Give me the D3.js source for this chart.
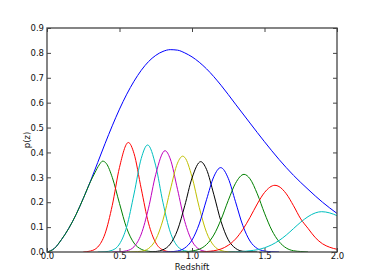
<!DOCTYPE html>
<html>
<head>
<meta charset="utf-8">
<script src="https://cdn.jsdelivr.net/npm/d3@7"></script>
<style>
  body { margin: 0; background: #fff; }
  text { font-family: "DejaVu Sans", sans-serif; }
</style>
</head>
<body>
<div id="chart"></div>
<script>
// overall n(z) and the tomographic bins, [z, p(z)]
var nzAll = [[0,0],[0.05,0.014],[0.1,0.05],[0.15,0.095],[0.2,0.15],[0.25,0.215],[0.3,0.285],
  [0.35,0.36],[0.4,0.435],[0.45,0.507],[0.5,0.574],[0.55,0.634],[0.6,0.686],[0.65,0.73],
  [0.7,0.765],[0.75,0.79],[0.8,0.806],[0.85,0.813],[0.9,0.811],[0.95,0.8],[1.0,0.784],
  [1.1,0.736],[1.2,0.67],[1.3,0.594],[1.4,0.518],[1.5,0.443],[1.6,0.372],[1.7,0.308],
  [1.8,0.252],[1.9,0.2],[2.0,0.155]];
var bin1 = [[0,0],[0.05,0.014],[0.1,0.05],[0.15,0.095],[0.2,0.15],[0.25,0.215],[0.3,0.283],
  [0.33,0.318],[0.36,0.35],[0.384,0.365],[0.41,0.355],[0.45,0.3],[0.5,0.195],[0.55,0.095],
  [0.6,0.036],[0.65,0.011],[0.7,0.003],[0.75,0]];
var bin2 = [[0.25,0],[0.3,0.004],[0.35,0.02],[0.4,0.073],[0.45,0.187],[0.5,0.34],[0.561,0.44],
  [0.6,0.396],[0.65,0.254],[0.7,0.116],[0.75,0.037],[0.8,0.008],[0.85,0.001],[0.9,0]];
var bin3 = [[0.35,0],[0.4,0.001],[0.45,0.007],[0.5,0.032],[0.55,0.102],[0.6,0.233],[0.65,0.376],
  [0.694,0.43],[0.75,0.346],[0.8,0.198],[0.85,0.08],[0.9,0.023],[0.95,0.005],[1.0,0.001],[1.05,0]];
var bin4 = [[0.45,0],[0.5,0.001],[0.55,0.005],[0.6,0.021],[0.65,0.072],[0.7,0.176],[0.75,0.312],
  [0.814,0.407],[0.85,0.374],[0.9,0.252],[0.95,0.123],[1.0,0.044],[1.05,0.011],[1.1,0.002],[1.15,0]];
var bin5 = [[0.55,0],[0.6,0.001],[0.65,0.003],[0.7,0.014],[0.75,0.05],[0.8,0.129],[0.85,0.249],
  [0.9,0.357],[0.936,0.385],[0.95,0.38],[1.0,0.302],[1.05,0.179],[1.1,0.079],[1.15,0.026],
  [1.2,0.006],[1.25,0.001],[1.3,0]];
var bin6 = [[0.7,0],[0.75,0.002],[0.8,0.009],[0.85,0.032],[0.9,0.088],[0.95,0.186],[1.0,0.297],
  [1.06,0.363],[1.1,0.332],[1.15,0.232],[1.2,0.123],[1.25,0.049],[1.3,0.015],[1.35,0.003],
  [1.4,0.001],[1.45,0]];
var bin7 = [[0.8,0],[0.85,0.001],[0.9,0.004],[0.95,0.016],[1.0,0.048],[1.05,0.113],[1.1,0.21],
  [1.15,0.302],[1.198,0.339],[1.25,0.296],[1.3,0.202],[1.35,0.107],[1.4,0.044],[1.45,0.014],
  [1.5,0.004],[1.55,0.001],[1.6,0]];
var bin8 = [[0.9,0],[0.95,0.001],[1.0,0.004],[1.05,0.011],[1.1,0.03],[1.15,0.068],[1.2,0.13],
  [1.25,0.207],[1.3,0.276],[1.359,0.312],[1.4,0.294],[1.45,0.234],[1.5,0.156],[1.55,0.088],
  [1.6,0.042],[1.65,0.016],[1.7,0.005],[1.75,0.002],[1.8,0]];
var bin9 = [[1.05,0],[1.1,0.002],[1.15,0.005],[1.2,0.012],[1.25,0.027],[1.3,0.052],[1.35,0.09],
  [1.4,0.139],[1.45,0.193],[1.5,0.239],[1.572,0.268],[1.6,0.263],[1.65,0.234],[1.7,0.186],
  [1.75,0.133],[1.8,0.095],[1.85,0.058],[1.9,0.033],[1.95,0.019],[2.0,0.011]];
var bin10 = [[1.25,0],[1.3,0.001],[1.35,0.002],[1.4,0.005],[1.45,0.009],[1.5,0.017],[1.55,0.029],
  [1.6,0.046],[1.65,0.068],[1.7,0.094],[1.75,0.12],[1.8,0.142],[1.85,0.157],[1.894,0.162],
  [1.95,0.157],[2.0,0.146]];

var curves = [nzAll, bin1, bin2, bin3, bin4, bin5, bin6, bin7, bin8, bin9, bin10];
// matplotlib's old colour cycle b g r c m y k
var colors = ["#0000ff", "#008000", "#ff0000", "#00bfbf", "#bf00bf", "#bfbf00", "#000000"];
var xTicks = [0, 0.5, 1.0, 1.5, 2.0];
var yTicks = [0, 0.1, 0.2, 0.3, 0.4, 0.5, 0.6, 0.7, 0.8, 0.9];

var margin = {top: 28, right: 37, bottom: 28, left: 47}
  , width = 374 - margin.left - margin.right
  , height = 280 - margin.top - margin.bottom;

var svg = d3.select("#chart").append("svg")
    .attr("width", 374)
    .attr("height", 280)
  .append("g")
    .attr("transform", "translate(" + margin.left + "," + margin.top + ")");

var x = d3.scaleLinear().domain([0, 2]).range([0, width]);
var y = d3.scaleLinear().domain([0, 0.9]).range([height, 0]);

svg.append("clipPath").attr("id", "clip")
  .append("rect").attr("width", width).attr("height", height);

var line = d3.line()
    .x(function(d) { return x(d[0]); })
    .y(function(d) { return y(d[1]); })
    .curve(d3.curveMonotoneX);

svg.append("g").attr("clip-path", "url(#clip)")
  .selectAll("path")
    .data(curves)
  .enter().append("path")
    .attr("d", line)
    .attr("fill", "none")
    .attr("stroke", function(d, i) { return colors[i % colors.length]; })
    .attr("stroke-width", 1);

// ticks point inwards on all four sides
var tickLen = 4;
var axisColor = "#444";
svg.append("g").attr("transform", "translate(0," + height + ")")
    .call(d3.axisBottom(x).tickValues(xTicks).tickSize(-tickLen).tickPadding(1).tickFormat(d3.format(".1f")));
svg.append("g")
    .call(d3.axisTop(x).tickValues(xTicks).tickSize(-tickLen).tickFormat(""));
svg.append("g")
    .call(d3.axisLeft(y).tickValues(yTicks).tickSize(-tickLen).tickPadding(3).tickFormat(d3.format(".1f")));
svg.append("g").attr("transform", "translate(" + width + ",0)")
    .call(d3.axisRight(y).tickValues(yTicks).tickSize(-tickLen).tickFormat(""));

svg.selectAll(".domain").remove();
svg.selectAll(".tick line").attr("stroke", axisColor);
svg.selectAll(".tick text")
    .attr("fill", "#111")
    .style("font-size", "8.5px")
    .style("font-family", "DejaVu Sans");

svg.append("rect")
    .attr("width", width)
    .attr("height", height)
    .attr("fill", "none")
    .attr("stroke", axisColor)
    .attr("stroke-width", 1.3);

svg.append("text")
    .attr("x", width / 2)
    .attr("y", height + 17.5)
    .attr("text-anchor", "middle")
    .style("font-size", "8.5px")
    .attr("fill", "#111")
    .text("Redshift");

svg.append("text")
    .attr("transform", "translate(" + (-17) + "," + (height / 2) + ") rotate(-90)")
    .attr("text-anchor", "middle")
    .style("font-size", "8.5px")
    .attr("fill", "#111")
    .text("p(z)");
</script>
</body>
</html>
